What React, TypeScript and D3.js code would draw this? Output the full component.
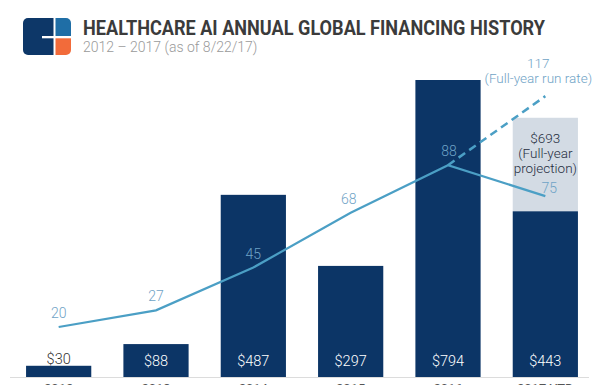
import React from "react";
import * as d3 from "d3";

const years = ["2012", "2013", "2014", "2015", "2016", "2017 YTD"];
const funding = [30, 88, 487, 297, 794, 443];
const fundingLabels = ["$30", "$88", "$487", "$297", "$794", "$443"];
const deals = [20, 27, 45, 68, 88, 75];
const projectionFunding = 693;
const projectionLines = ["$693", "(Full-year", "projection)"];
const runRateDeals = 117;
const runRateLines = ["117", "(Full-year run rate)"];

const W = 600;
const H = 385;

export default function App() {
  const x = d3.scaleBand<string>().domain(years).range([10, 594]).paddingInner(0.33).paddingOuter(0.165);
  const yBar = d3.scaleLinear().domain([0, 794]).range([377, 80]);
  const yLine = d3.scaleLinear().domain([0, 125]).range([374.6, 374.6 - 2.38 * 125]);
  const cx = (i: number) => (x(years[i]) as number) + x.bandwidth() / 2;

  const line = d3
    .line<number>()
    .x((_, i) => cx(i))
    .y((d) => yLine(d));

  const last = years.length - 1;
  const dashPts: [number, number][] = [
    [cx(last - 1), yLine(deals[last - 1])],
    [cx(last), yLine(runRateDeals)],
  ];
  const dashLine = d3.line()(dashPts) as string;

  const font = "Roboto, 'Noto Sans', sans-serif";
  const barColor = "#0c3566";
  const lineColor = "#4b9fc5";
  const lineLabel = "#6fa3c6";

  return (
    <svg width={W} height={H} style={{ position: "absolute", left: 0, top: 0, background: "#fff" }} fontFamily={font}>
      <defs>
        <clipPath id="logoClip">
          <rect x={23} y={18} width={48} height={37} rx={5} ry={5} />
        </clipPath>
      </defs>
      {/* logo */}
      <g clipPath="url(#logoClip)">
        <rect x={23} y={18} width={30.5} height={37} fill="#0d3768" />
        <rect x={55.5} y={18} width={16} height={18} fill="#1f6ea6" />
        <rect x={55.5} y={38.3} width={16} height={17} fill="#f26b3a" />
        <rect x={42} y={36} width={12} height={2.3} fill="#fff" />
      </g>
      <text x={83} y={35} fontSize={21} fontWeight={700} fill="#3b3b3b" textLength={462} lengthAdjust="spacingAndGlyphs">
        HEALTHCARE AI ANNUAL GLOBAL FINANCING HISTORY
      </text>
      <text x={83} y={51.5} fontSize={14} fontWeight={300} fill="#9a9a9a">
        2012 – 2017 (as of 8/22/17)
      </text>

      {/* projection box */}
      <rect
        x={x(years[last])}
        y={yBar(projectionFunding)}
        width={x.bandwidth()}
        height={yBar(funding[last]) - yBar(projectionFunding)}
        fill="#d3dbe4"
      />
      {projectionLines.map((t, i) => (
        <text key={t} x={cx(last)} y={143 + i * 15} textAnchor="middle" fontSize={13.5} fontWeight={300} fill="#1f2d40">
          {t}
        </text>
      ))}

      {/* bars */}
      {funding.map((v, i) => (
        <rect key={years[i]} x={x(years[i])} y={yBar(v)} width={x.bandwidth()} height={yBar(0) - yBar(v)} fill={barColor} />
      ))}
      {fundingLabels.map((t, i) => (
        <text
          key={t}
          x={cx(i)}
          y={i === 0 ? 364 : 366}
          textAnchor="middle"
          fontSize={14.5}
          fontWeight={300}
          fill={i === 0 ? "#333" : "#fff"}
        >
          {t}
        </text>
      ))}

      {/* axis */}
      <line x1={10} x2={589} y1={377.5} y2={377.5} stroke="#dcdcdc" strokeWidth={1} />
      {years.map((y, i) => (
        <text key={y} x={cx(i)} y={393} textAnchor="middle" fontSize={13} fill="#555">
          {y}
        </text>
      ))}

      {/* deals line */}
      <path d={dashLine} fill="none" stroke={lineColor} strokeWidth={2.5} strokeDasharray="8,5" />
      <path d={line(deals) as string} fill="none" stroke={lineColor} strokeWidth={2.2} />
      {deals.map((v, i) => (
        <text
          key={i}
          x={cx(i) + (i === last ? 4 : i === 3 ? -2 : i === 4 ? 1 : 0)}
          y={yLine(v) - (i === last ? 3 : 9)}
          textAnchor="middle"
          fontSize={14}
          fontWeight={300}
          fill={lineLabel}
        >
          {v}
        </text>
      ))}
      {runRateLines.map((t, i) => (
        <text key={t} x={cx(last) - 7} y={68 + i * 15} textAnchor="middle" fontSize={13.5} fontWeight={300} fill={lineLabel}>
          {t}
        </text>
      ))}
    </svg>
  );
}
